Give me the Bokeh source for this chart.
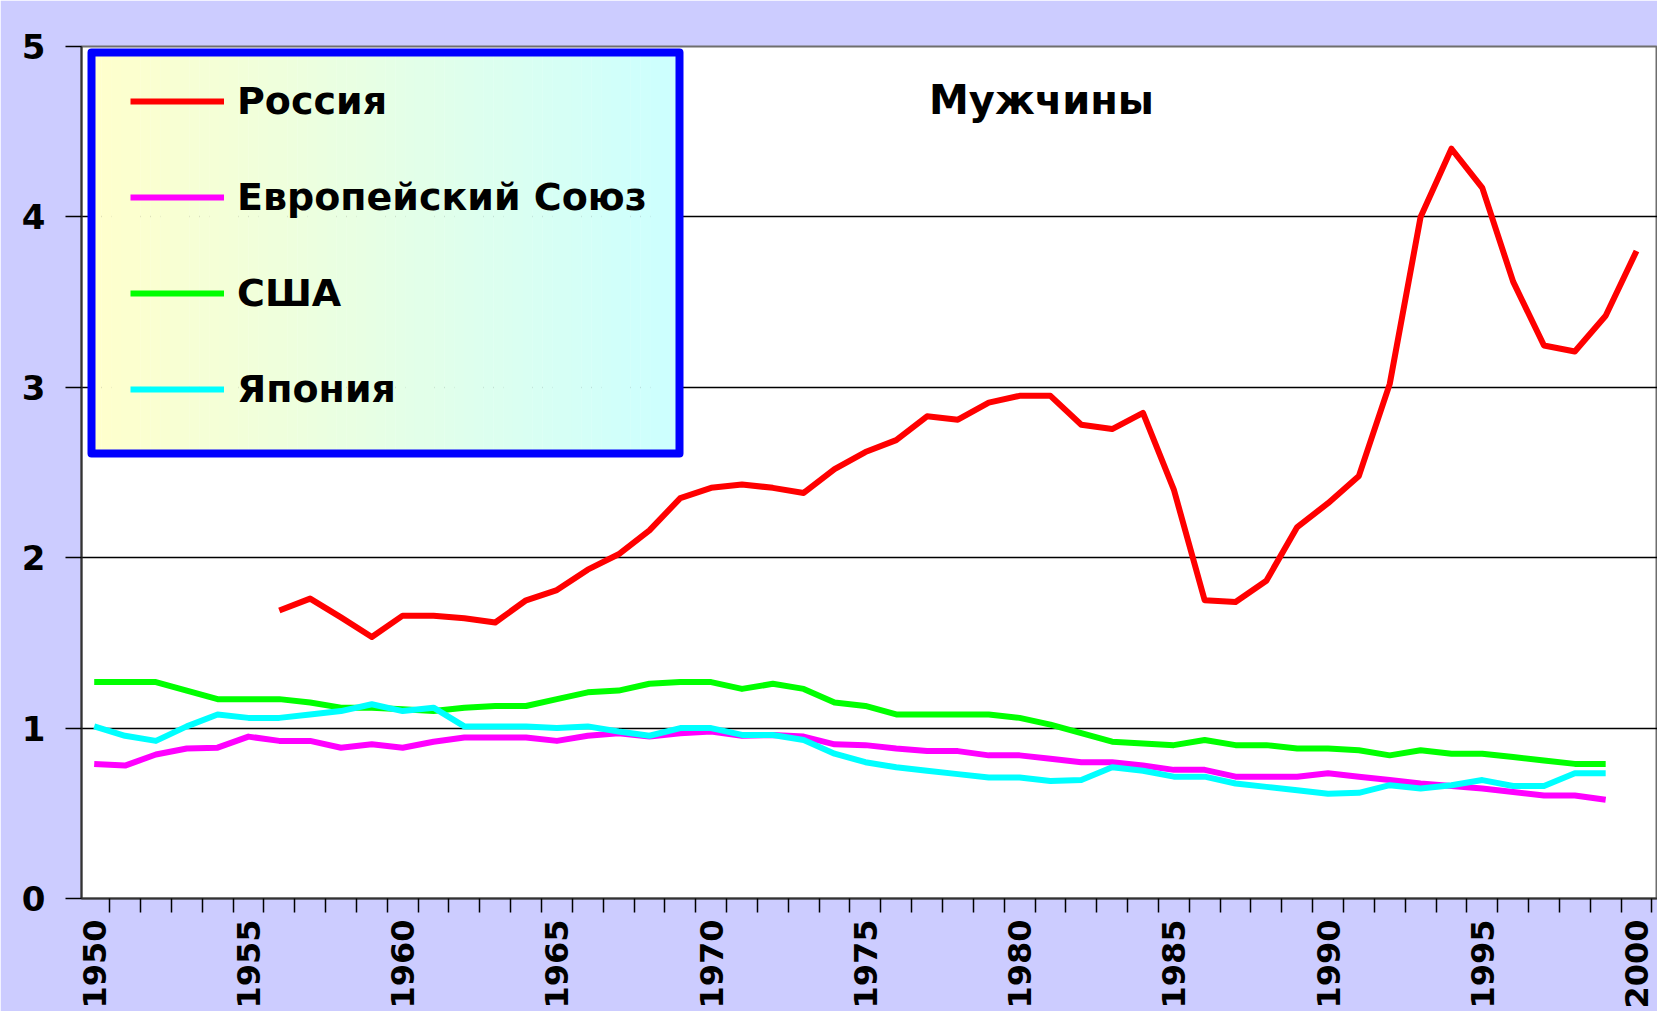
import math
from bokeh.plotting import figure
from bokeh.models import Range1d, FixedTicker, Legend, LegendItem, Label
from bokeh.embed import file_html
from bokeh.resources import INLINE

# ---------------- data ----------------
years = list(range(1950, 2000))          # EU, USA, Japan: 1950-1999
russia_years = list(range(1956, 2001))   # Russia: 1956-2000

russia = [1.69, 1.76, 1.65, 1.535, 1.66, 1.66, 1.645, 1.62, 1.75, 1.81,
          1.93, 2.02, 2.16, 2.35, 2.41, 2.43, 2.41, 2.38, 2.52, 2.62,
          2.69, 2.83, 2.81, 2.91, 2.95, 2.95, 2.78, 2.755, 2.85, 2.40,
          1.75, 1.74, 1.865, 2.18, 2.32, 2.48, 3.02, 4.00, 4.40, 4.17,
          3.62, 3.245, 3.21, 3.42, 3.80]

eu = [0.79, 0.78, 0.845, 0.88, 0.885, 0.95, 0.925, 0.925, 0.885, 0.905,
      0.885, 0.92, 0.945, 0.945, 0.945, 0.925, 0.955, 0.97, 0.95, 0.97,
      0.98, 0.955, 0.96, 0.95, 0.905, 0.90, 0.88, 0.865, 0.865, 0.84,
      0.84, 0.82, 0.80, 0.80, 0.78, 0.755, 0.755, 0.715, 0.715, 0.715,
      0.735, 0.715, 0.695, 0.675, 0.66, 0.645, 0.625, 0.605, 0.605, 0.58]

usa = [1.27, 1.27, 1.27, 1.22, 1.17, 1.17, 1.17, 1.15, 1.12, 1.12,
       1.11, 1.10, 1.12, 1.13, 1.13, 1.17, 1.21, 1.22, 1.26, 1.27,
       1.27, 1.23, 1.26, 1.23, 1.15, 1.13, 1.08, 1.08, 1.08, 1.08,
       1.06, 1.02, 0.97, 0.92, 0.91, 0.90, 0.93, 0.90, 0.90, 0.88,
       0.88, 0.87, 0.84, 0.87, 0.85, 0.85, 0.83, 0.81, 0.79, 0.79]

japan = [1.01, 0.955, 0.925, 1.01, 1.08, 1.06, 1.06, 1.08, 1.10, 1.14,
         1.10, 1.12, 1.01, 1.01, 1.01, 1.00, 1.01, 0.98, 0.955, 1.00,
         1.00, 0.96, 0.96, 0.93, 0.85, 0.80, 0.77, 0.75, 0.73, 0.71,
         0.71, 0.69, 0.695, 0.77, 0.75, 0.715, 0.715, 0.675, 0.655, 0.635,
         0.615, 0.62, 0.665, 0.645, 0.665, 0.695, 0.66, 0.66, 0.735, 0.735]

series_names = ["Россия", "Европейский Союз", "США", "Япония"]
series_colors = ["#FF0000", "#FF00FF", "#00FF00", "#00FFFF"]
title_text = "Мужчины"
x_label_years = [1950, 1955, 1960, 1965, 1970, 1975, 1980, 1985, 1990, 1995, 2000]
y_ticks = [0, 1, 2, 3, 4, 5]
grid_values = [1, 2, 3, 4]

# ---------------- layout ----------------
FONT = "DejaVu Sans"
W, H = 1657, 1011
FL, FR, FT, FB = 81, 1657, 46, 898      # frame edges in canvas px
X0, X1 = 1949.588, 2000.68
Y0, Y1 = 0, 5


def dx(px):
    return X0 + (px - FL) / (FR - FL) * (X1 - X0)


def dy(py):
    return Y0 + (FB - py) / (FB - FT) * (Y1 - Y0)


p = figure(width=W, height=H, x_range=Range1d(X0, X1), y_range=Range1d(Y0, Y1),
           output_backend="svg", toolbar_location=None,
           min_border_left=FL, min_border_right=0, min_border_top=FT,
           min_border_bottom=H - FB)
p.background_fill_color = "white"
p.border_fill_color = "#CCCCFF"
p.outline_line_color = "#6E6E6E"
p.outline_line_width = 2

# grid
p.xgrid.visible = False
p.ygrid.ticker = FixedTicker(ticks=grid_values)
p.ygrid.grid_line_color = "#000000"
p.ygrid.grid_line_width = 1.5

# x axis
xa = p.xaxis[0]
xa.ticker = FixedTicker(ticks=x_label_years,
                        minor_ticks=[1949.5 + i for i in range(52)])
xa.major_tick_out = 0
xa.major_tick_in = 0
xa.minor_tick_out = 14
xa.minor_tick_in = 0
xa.minor_tick_line_color = "black"
xa.minor_tick_line_width = 1.5
xa.axis_line_color = "#333333"
xa.axis_line_width = 2
xa.major_label_orientation = math.pi / 2
xa.major_label_standoff = 7
xa.major_label_text_font = FONT
xa.major_label_text_font_size = "32px"
xa.major_label_text_font_style = "bold"
xa.major_label_text_color = "black"

# y axis
ya = p.yaxis[0]
ya.ticker = FixedTicker(ticks=y_ticks)
ya.major_tick_out = 16
ya.major_tick_in = 0
ya.minor_tick_out = 0
ya.minor_tick_in = 0
ya.major_tick_line_color = "black"
ya.major_tick_line_width = 1.5
ya.axis_line_color = "#333333"
ya.axis_line_width = 2
ya.major_label_standoff = 20
ya.major_label_text_font = FONT
ya.major_label_text_font_size = "34px"
ya.major_label_text_font_style = "bold"
ya.major_label_text_color = "black"

# legend box (gradient fill + blue border)
bx0, bx1, by0, by1 = dx(91), dx(679), dy(52), dy(453)
n = 60
lefts, rights, cols = [], [], []
for i in range(n):
    t = i / (n - 1)
    r = round(255 + (204 - 255) * t)
    b = round(204 + (255 - 204) * t)
    lefts.append(bx0 + (bx1 - bx0) * i / n)
    rights.append(bx0 + (bx1 - bx0) * (i + 1) / n + 0.01)
    cols.append("#%02X%02X%02X" % (r, 255, b))
p.quad(left=lefts, right=rights, top=[by0] * n, bottom=[by1] * n,
       fill_color=cols, line_color=None)
p.quad(left=[bx0], right=[bx1], top=[by0], bottom=[by1], fill_alpha=0,
       line_color="#0000FF", line_width=8, line_join="round")

# series
r_ru = p.line(russia_years, russia, line_color=series_colors[0], line_width=6, line_join="round")
r_eu = p.line(years, eu, line_color=series_colors[1], line_width=6, line_join="round")
r_us = p.line(years, usa, line_color=series_colors[2], line_width=6, line_join="round")
r_jp = p.line(years, japan, line_color=series_colors[3], line_width=6, line_join="round")
renderers = [r_ru, r_eu, r_us, r_jp]

legend = Legend(
    items=[LegendItem(label=nm, renderers=[rr]) for nm, rr in zip(series_names, renderers)],
    location=(49, FB - 437), orientation="vertical",
    glyph_width=94, glyph_height=96, label_height=96, label_standoff=13,
    spacing=0, padding=0, margin=0,
    border_line_alpha=0, background_fill_alpha=0,
    label_text_font=FONT, label_text_font_size="38px",
    label_text_font_style="bold", label_text_color="black",
)
p.add_layout(legend)

p.add_layout(Label(x=dx(1041), y=dy(99), text=title_text, text_align="center",
                   text_baseline="middle", text_font=FONT,
                   text_font_size="40px", text_font_style="bold", text_color="black"))

open("out.html", "w").write(file_html(p, INLINE))
